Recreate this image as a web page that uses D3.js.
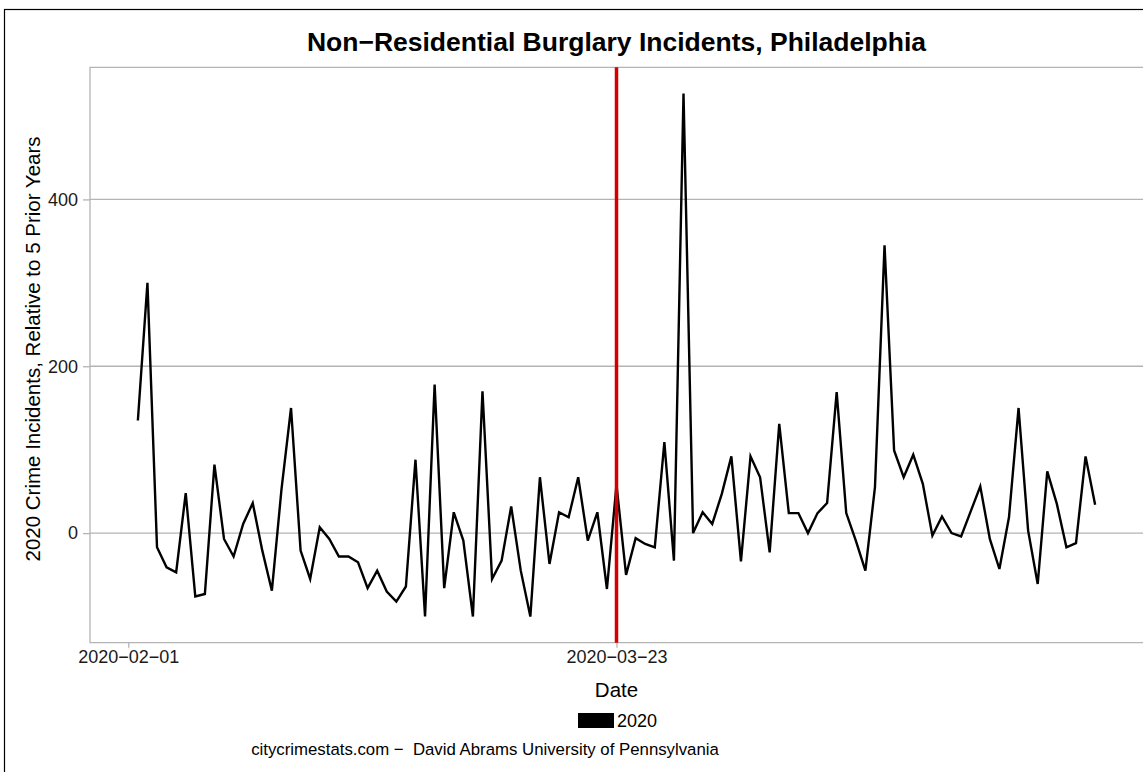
<!DOCTYPE html>
<html>
<head>
<meta charset="utf-8">
<script src="https://cdn.jsdelivr.net/npm/d3@7"></script>
<style>
html,body{margin:0;padding:0;background:#fff;}
svg{display:block;font-family:"Liberation Sans",Arial,sans-serif;}
</style>
</head>
<body>
<svg id="chart" width="1143" height="772"></svg>
<script>
// ---- data ----
const startDate = "2020-02-02";
const values = [
  // Feb 2 - Feb 29
  135, 300, -17, -41, -47, 48, -76, -73, 82, -7, -28, 11, 36, -21, -69, 52, 150, -21, -55, 7, -7, -28, -28, -35, -66, -45, -70, -82,
  // Mar 1 - Mar 31
  -64, 88, -100, 178, -66, 25, -9, -100, 170, -55, -33, 32, -45, -100, 67, -37, 25, 19, 67, -9, 25, -67, 58, -50, -6, -13, -17, 109, -33, 527, 0,
  // Apr 1 - Apr 30
  25, 11, 47, 92, -34, 92, 67, -23, 131, 24, 24, 0, 24, 36, 169, 24, -9, -45, 55, 345, 99, 67, 94, 59, -3, 20, 0, -4, 26, 56,
  // May 1 - May 12
  -7, -43, 19, 150, 3, -61, 74, 35, -17, -12, 92, 34
];
const xTickLabels = ["2020-02-01", "2020-03-23"];
const yTicks = [0, 200, 400];
const markerDate = "2020-03-23";
const seriesName = "2020";
const titleText = "Non\u2212Residential Burglary Incidents, Philadelphia";
const xTitle = "Date";
const yTitle = "2020 Crime Incidents, Relative to 5 Prior Years";
const captionText = "citycrimestats.com \u2212  David Abrams University of Pennsylvania";

// ---- build ----
const parse = d3.utcParse("%Y-%m-%d");
const day0 = parse(startDate);
const data = values.map((v, i) => ({date: d3.utcDay.offset(day0, i), value: v}));

const svg = d3.select("#chart");
const panel = {left: 90, right: 1143, top: 67.3, bottom: 642.7};
const font = "Liberation Sans, Arial, sans-serif";

// outer border
svg.append("rect").attr("x", 4.5).attr("y", 9.5).attr("width", 1200).attr("height", 800)
  .attr("fill", "none").attr("stroke", "#000").attr("stroke-width", 1.2);

const xExt = d3.extent(data, d => d.date);
const xPad = (xExt[1] - xExt[0]) * 0.05;
const x = d3.scaleUtc()
  .domain([new Date(+xExt[0] - xPad), new Date(+xExt[1] + xPad)])
  .range([panel.left, panel.right]);

const yExt = d3.extent(data, d => d.value);
const yPad = (yExt[1] - yExt[0]) * 0.05;
const y = d3.scaleLinear()
  .domain([yExt[0] - yPad, yExt[1] + yPad])
  .range([panel.bottom, panel.top]);

const gridCol = "#b4b4b4";

// gridlines
svg.append("g").selectAll("line").data(yTicks).join("line")
  .attr("x1", panel.left).attr("x2", panel.right)
  .attr("y1", d => y(d)).attr("y2", d => y(d))
  .attr("stroke", gridCol).attr("stroke-width", 1.3);

// panel border (left, top, bottom)
svg.append("path")
  .attr("d", `M${panel.right},${panel.top}H${panel.left}V${panel.bottom}H${panel.right}`)
  .attr("fill", "none").attr("stroke", gridCol).attr("stroke-width", 1.3);

// y axis
const yAxis = svg.append("g").attr("transform", `translate(${panel.left},0)`)
  .call(d3.axisLeft(y).tickValues(yTicks).tickSize(7).tickPadding(5).tickFormat(d3.format("d")));
yAxis.select(".domain").remove();
yAxis.selectAll(".tick line").attr("stroke", gridCol).attr("stroke-width", 1.3);
yAxis.selectAll(".tick text").attr("fill", "#1a1a1a").style("font-size", "18px")
  .style("font-family", font);

// x axis
const xAxis = svg.append("g").attr("transform", `translate(0,${panel.bottom})`)
  .call(d3.axisBottom(x).tickValues(xTickLabels.map(parse)).tickSize(5).tickPadding(3)
    .tickFormat(d => d3.utcFormat("%Y-%m-%d")(d).replace(/-/g, "\u2212")));
xAxis.select(".domain").remove();
xAxis.selectAll(".tick line").attr("stroke", gridCol).attr("stroke-width", 1.3);
xAxis.selectAll(".tick text").attr("fill", "#1a1a1a").style("font-size", "18px")
  .style("font-family", font);

// line
const line = d3.line().x(d => x(d.date)).y(d => y(d.value));
svg.append("path").datum(data).attr("d", line)
  .attr("fill", "none").attr("stroke", "#000").attr("stroke-width", 2.4)
  .attr("stroke-linejoin", "miter");

// marker vline
const mx = x(parse(markerDate));
svg.append("line").attr("x1", mx).attr("x2", mx).attr("y1", panel.top).attr("y2", panel.bottom)
  .attr("stroke", "#d40000").attr("stroke-width", 3.5);

// title
svg.append("text").attr("x", (panel.left + panel.right) / 2).attr("y", 50.5)
  .attr("text-anchor", "middle").style("font-size", "26.5px").style("font-weight", "bold")
  .attr("fill", "#000").text(titleText);

// x title
svg.append("text").attr("x", (panel.left + panel.right) / 2).attr("y", 697)
  .attr("text-anchor", "middle").style("font-size", "20.5px").attr("fill", "#000").text(xTitle);

// y title
svg.append("text").attr("transform", `translate(40,349) rotate(-90)`)
  .attr("text-anchor", "middle").style("font-size", "20.5px").attr("fill", "#000").text(yTitle);

// legend
const lg = svg.append("g").attr("transform", "translate(578,713)");
lg.append("rect").attr("width", 36).attr("height", 15).attr("fill", "#000");
lg.append("text").attr("x", 39).attr("y", 14).style("font-size", "18px").attr("fill", "#000").text(seriesName);

// caption
svg.append("text").attr("x", 485).attr("y", 755).attr("text-anchor", "middle")
  .style("font-size", "16.8px").style("white-space", "pre").attr("fill", "#000").text(captionText);
</script>
</body>
</html>
